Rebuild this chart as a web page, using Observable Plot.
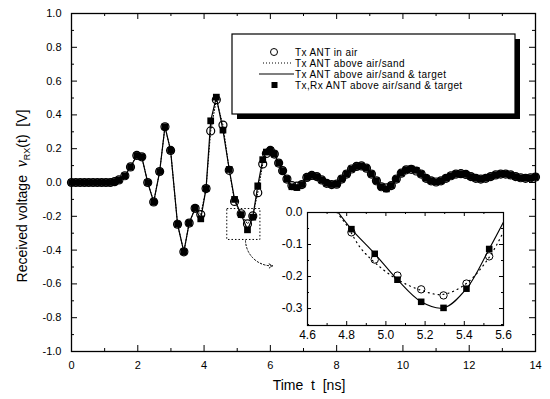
<!DOCTYPE html>
<html><head><meta charset="utf-8">
<script src="https://cdn.jsdelivr.net/npm/d3@7"></script>
<script src="https://cdn.jsdelivr.net/npm/@observablehq/plot@0.6"></script>
<style>
body{margin:0;background:#fff;}
#wrap{position:relative;width:550px;height:399px;font-family:"Liberation Sans",Arial,sans-serif;background:#fff;}
#wrap > svg{position:absolute;}
</style></head><body><div id="wrap"></div>
<script>
// ---------- main panel data ----------
const tMain = [0.00,0.13,0.26,0.39,0.52,0.65,0.78,0.91,1.04,1.17,1.30,1.43,
 1.61,1.78,1.97,2.12,2.30,2.48,2.66,2.82,2.99,3.20,3.39,3.55,3.73,3.90,4.06,4.20,4.37,4.57,4.76,4.92,5.12,5.31,5.47,5.62,5.77,5.88,6.00,6.12,6.25,6.37,6.50,6.65,6.80,6.95,
 7.10,7.25,7.40,7.55,7.70,7.85,8.00,8.15,8.30,8.45,8.60,8.75,8.90,9.05,9.20,9.35,9.50,9.65,9.80,9.95,
 10.10,10.25,10.40,10.55,10.70,10.85,11.00,11.15,11.30,11.45,11.60,11.75,11.90,12.05,12.20,12.35,12.50,12.65,12.80,12.95,
 13.10,13.25,13.40,13.55,13.70,13.85,14.00];
const vTxRx = [0,0,0,0,0,0,0,0,0,0,0.005,0.015,
 0.04,0.092,0.16,0.152,0.0,-0.115,0.065,0.33,0.19,-0.247,-0.41,-0.24,-0.153,-0.215,-0.036,0.365,0.505,0.31,0.077,-0.10,-0.19,-0.28,-0.205,-0.02,0.135,0.18,0.19,0.168,0.115,0.07,0.02,-0.025,-0.03,-0.012,
 0.03,0.042,0.035,0.015,-0.005,-0.012,-0.01,0.02,0.05,0.08,0.095,0.098,0.085,0.05,0.01,-0.025,-0.038,-0.018,0.02,0.055,
 0.075,0.08,0.072,0.05,0.025,0.01,0.003,0.01,0.025,0.04,0.05,0.052,0.048,0.035,0.025,0.02,0.025,0.035,0.045,0.05,
 0.05,0.045,0.035,0.028,0.025,0.028,0.032];
const vTarget = [0,0,0,0,0,0,0,0,0,0,0.005,0.015,
 0.04,0.092,0.16,0.152,0.0,-0.115,0.065,0.33,0.19,-0.247,-0.41,-0.24,-0.153,-0.215,-0.036,0.365,0.505,0.31,0.077,-0.10,-0.19,-0.28,-0.205,-0.02,0.135,0.18,0.19,0.168,0.115,0.07,0.02,-0.025,-0.03,-0.012,
 0.03,0.042,0.035,0.015,-0.005,-0.012,-0.01,0.02,0.05,0.08,0.095,0.098,0.085,0.05,0.01,-0.025,-0.038,-0.018,0.02,0.055,
 0.075,0.08,0.072,0.05,0.025,0.01,0.003,0.01,0.025,0.04,0.05,0.052,0.048,0.035,0.025,0.02,0.025,0.035,0.045,0.05,
 0.05,0.045,0.035,0.028,0.025,0.028,0.032];
const vAir = [0,0,0,0,0,0,0,0,0,0,0.005,0.015,
 0.04,0.092,0.16,0.152,0.0,-0.115,0.065,0.33,0.19,-0.247,-0.41,-0.24,-0.153,-0.19,-0.036,0.305,0.49,0.34,0.072,-0.112,-0.185,-0.245,-0.198,-0.06,0.11,0.172,0.19,0.168,0.115,0.07,0.02,-0.018,-0.022,-0.012,
 0.03,0.042,0.035,0.015,-0.005,-0.012,-0.01,0.02,0.05,0.08,0.095,0.098,0.085,0.05,0.01,-0.025,-0.032,-0.018,0.02,0.055,
 0.075,0.078,0.068,0.05,0.025,0.01,0.003,0.01,0.025,0.04,0.05,0.052,0.048,0.035,0.025,0.02,0.025,0.035,0.045,0.05,
 0.05,0.045,0.035,0.028,0.025,0.028,0.032];
const vSand = [0,0,0,0,0,0,0,0,0,0,0.005,0.015,
 0.04,0.092,0.16,0.152,0.0,-0.115,0.065,0.33,0.19,-0.247,-0.41,-0.24,-0.153,-0.19,-0.036,0.305,0.49,0.34,0.072,-0.112,-0.185,-0.245,-0.198,-0.06,0.11,0.172,0.19,0.168,0.115,0.07,0.02,-0.018,-0.022,-0.012,
 0.03,0.042,0.035,0.015,-0.005,-0.012,-0.01,0.02,0.05,0.08,0.095,0.098,0.085,0.05,0.01,-0.025,-0.032,-0.018,0.02,0.055,
 0.075,0.078,0.068,0.05,0.025,0.01,0.003,0.01,0.025,0.04,0.05,0.052,0.048,0.035,0.025,0.02,0.025,0.035,0.045,0.05,
 0.05,0.045,0.035,0.028,0.025,0.028,0.032];
const xTicksMain = [0,2,4,6,8,10,12,14];
const xMinorMain = [1,3,5,7,9,11,13];
const yTicksMain = [-1,-0.8,-0.6,-0.4,-0.2,0,0.2,0.4,0.6,0.8,1];
const yMinorMain = [-0.9,-0.7,-0.5,-0.3,-0.1,0.1,0.3,0.5,0.7,0.9];
const zoomBox = {t1:4.70, t2:5.70, v1:-0.34, v2:-0.157};
const zoomArrow = {t1:5.25, v1:-0.345, t2:6.07, v2:-0.493};
// ---------- inset data ----------
const inT    = [4.824,4.943,5.059,5.18,5.294,5.411,5.527];
const inAir  = [-0.062,-0.147,-0.197,-0.24,-0.259,-0.222,-0.137];
const inTxRx = [-0.052,-0.129,-0.21,-0.279,-0.298,-0.238,-0.114];
const inTargetT = [4.74,4.824,4.943,5.059,5.18,5.294,5.411,5.527,5.60];
const inTargetV = [0.014,-0.052,-0.129,-0.21,-0.279,-0.298,-0.238,-0.114,-0.03];
const inSandT = [4.75,4.80,4.87,4.95,5.06,5.18,5.29,5.41,5.527,5.60];
const inSandV = [0.0,-0.04,-0.11,-0.16,-0.21,-0.243,-0.256,-0.222,-0.14,-0.06];
const inXTicks = [4.6,4.8,5.0,5.2,5.4,5.6];
const inXMinor = [4.7,4.9,5.1,5.3,5.5];
const inYTicks = [0,-0.1,-0.2,-0.3];
const inYMinor = [-0.05,-0.15,-0.25,-0.35];
// ---------- legend ----------
const legendLabels = ["Tx ANT in air","Tx ANT above air/sand","Tx ANT above air/sand & target","Tx,Rx ANT above air/sand & target"];

const FONT = '"Liberation Sans", Arial, sans-serif';
const wrap = document.getElementById("wrap");

const W=550,H=399,mL=71,mR=15,mT=13,mB=48;
const fw=W-mL-mR, fh=H-mT-mB;
const main = tMain.map((t,i)=>({t, air:vAir[i], sand:vSand[i], target:vTarget[i], txrx:vTxRx[i]}));

const mainPlot = Plot.plot({
  width:W, height:H, marginLeft:mL, marginRight:mR, marginTop:mT, marginBottom:mB,
  x:{domain:[0,14]}, y:{domain:[-1,1]},
  style:{fontFamily:FONT, fontSize:"11px", color:"#000", background:"transparent", overflow:"visible"},
  marks:[
    Plot.frame({stroke:"#000", strokeWidth:1.3}),
    Plot.tickX(xTicksMain,{x:d=>d, insetTop:fh-6, stroke:"#000"}),
    Plot.tickX(xTicksMain,{x:d=>d, insetBottom:fh-6, stroke:"#000"}),
    Plot.tickX(xMinorMain,{x:d=>d, insetTop:fh-3, stroke:"#000"}),
    Plot.tickX(xMinorMain,{x:d=>d, insetBottom:fh-3, stroke:"#000"}),
    Plot.tickY(yTicksMain,{y:d=>d, insetRight:fw-6, stroke:"#000"}),
    Plot.tickY(yTicksMain,{y:d=>d, insetLeft:fw-6, stroke:"#000"}),
    Plot.tickY(yMinorMain,{y:d=>d, insetRight:fw-3, stroke:"#000"}),
    Plot.tickY(yMinorMain,{y:d=>d, insetLeft:fw-3, stroke:"#000"}),
    Plot.axisX({ticks:xTicksMain, tickSize:0, tickPadding:10, tickFormat:d=>String(d), label:null, fontSize:11}),
    Plot.axisY({ticks:yTicksMain, tickSize:0, tickPadding:10, tickFormat:d=>d.toFixed(1), label:null, fontSize:11}),
    Plot.line(main,{x:"t", y:"sand", stroke:"#000", strokeWidth:1, strokeDasharray:"1,2"}),
    Plot.line(main,{x:"t", y:"target", stroke:"#000", strokeWidth:1.2}),
    Plot.dot(main,{x:"t", y:"air", r:4, stroke:"#000", fill:"none", strokeWidth:1.2}),
    Plot.dot(main,{x:"t", y:"txrx", symbol:"square", r:3.8, fill:"#000", stroke:"none"}),
    Plot.rect([zoomBox],{x1:"t1", x2:"t2", y1:"v1", y2:"v2", fill:"none", stroke:"#000", strokeWidth:1, strokeDasharray:"1.5,2"}),
    Plot.arrow([zoomArrow],{x1:"t1", y1:"v1", x2:"t2", y2:"v2", bend:-45, stroke:"#000", strokeWidth:1, strokeDasharray:"1.5,2", headLength:6})
  ]
});
mainPlot.style.left="0px"; mainPlot.style.top="0px";
wrap.appendChild(mainPlot);

// axis titles
const ms = d3.select(mainPlot);
ms.append("text").attr("x",309).attr("y",390).attr("text-anchor","middle")
  .attr("font-family",FONT).attr("font-size",14).attr("fill","#000").style("white-space","pre")
  .text("Time  t  [ns]");
const yl = ms.append("text").attr("transform","translate(27,196) rotate(-90)").attr("text-anchor","middle")
  .attr("font-family",FONT).attr("font-size",14).attr("fill","#000").style("white-space","pre");
yl.append("tspan").text("Received voltage  ");
yl.append("tspan").attr("font-family","'Liberation Serif', serif").attr("font-style","italic").attr("font-size",16).text("v");
yl.append("tspan").attr("font-size",9).attr("dy",3).text("RX");
yl.append("tspan").attr("dy",-3).text("(t)  [V]");

// ---------- inset ----------
const iLeft=268, iTop=202, iW=242, iH=145, iL=39, iT=10, iR=7, iB=22;
const ifw=iW-iL-iR, ifh=iH-iT-iB;
const inPts = inT.map((t,i)=>({t, air:inAir[i], txrx:inTxRx[i]}));
const inTarget = inTargetT.map((t,i)=>({t, v:inTargetV[i]}));
const inSand = inSandT.map((t,i)=>({t, v:inSandV[i]}));
const insetPlot = Plot.plot({
  width:iW, height:iH, marginLeft:iL, marginRight:iR, marginTop:iT, marginBottom:iB,
  x:{domain:[4.6,5.6]}, y:{domain:[-0.353,0]},
  style:{fontFamily:FONT, fontSize:"12px", color:"#000", background:"transparent", overflow:"visible"},
  marks:[
    Plot.frame({fill:"#fff", stroke:"#000", strokeWidth:1.2}),
    Plot.tickX(inXTicks,{x:d=>d, insetTop:ifh-4, stroke:"#000"}),
    Plot.tickX(inXTicks,{x:d=>d, insetBottom:ifh-4, stroke:"#000"}),
    Plot.tickX(inXMinor,{x:d=>d, insetTop:ifh-2, stroke:"#000"}),
    Plot.tickX(inXMinor,{x:d=>d, insetBottom:ifh-2, stroke:"#000"}),
    Plot.tickY(inYTicks,{y:d=>d, insetRight:ifw-4, stroke:"#000"}),
    Plot.tickY(inYTicks,{y:d=>d, insetLeft:ifw-4, stroke:"#000"}),
    Plot.tickY(inYMinor,{y:d=>d, insetRight:ifw-2, stroke:"#000"}),
    Plot.tickY(inYMinor,{y:d=>d, insetLeft:ifw-2, stroke:"#000"}),
    Plot.axisX({ticks:inXTicks, tickSize:0, tickPadding:5, tickFormat:d=>d.toFixed(1), label:null, fontSize:12}),
    Plot.axisY({ticks:inYTicks, tickSize:0, tickPadding:5, tickFormat:d=>d.toFixed(1), label:null, fontSize:12}),
    Plot.line(inSand,{x:"t", y:"v", curve:"catmull-rom", stroke:"#000", strokeWidth:1.2, strokeDasharray:"1,4", clip:true}),
    Plot.line(inTarget,{x:"t", y:"v", curve:"catmull-rom", stroke:"#000", strokeWidth:1.1, clip:true}),
    Plot.dot(inPts,{x:"t", y:"air", r:3.7, stroke:"#000", fill:"none", strokeWidth:1}),
    Plot.dot(inPts,{x:"t", y:"txrx", symbol:"square", r:3.7, fill:"#000", stroke:"none"})
  ]
});
insetPlot.style.left=iLeft+"px"; insetPlot.style.top=iTop+"px";
wrap.appendChild(insetPlot);

// ---------- legend ----------
const lg = d3.select(wrap).append("svg").attr("width",W).attr("height",H).style("left","0px").style("top","0px");
const bx=232, by=34, bw=283, bh=80;
lg.append("rect").attr("x",bx+5).attr("y",by+5).attr("width",bw).attr("height",bh).attr("fill","#000");
lg.append("rect").attr("x",bx).attr("y",by).attr("width",bw).attr("height",bh).attr("fill","#fff").attr("stroke","#000").attr("stroke-width",1.2);
const rowY=[52,63,74,85];
lg.append("circle").attr("cx",274).attr("cy",rowY[0]).attr("r",3.5).attr("fill","none").attr("stroke","#000");
lg.append("line").attr("x1",263).attr("x2",293).attr("y1",rowY[1]).attr("y2",rowY[1]).attr("stroke","#000").attr("stroke-dasharray","1,2");
lg.append("line").attr("x1",259).attr("x2",294).attr("y1",rowY[2]).attr("y2",rowY[2]).attr("stroke","#000").attr("stroke-width",1.1);
lg.append("rect").attr("x",271.5).attr("y",rowY[3]-3).attr("width",6).attr("height",6).attr("fill","#000");
legendLabels.forEach((s,i)=>{
  lg.append("text").attr("x",295).attr("y",rowY[i]).attr("dy","0.35em").attr("font-family",FONT).attr("font-size",10).attr("letter-spacing","0.4px").attr("fill","#000").text(s);
});
</script></body></html>
